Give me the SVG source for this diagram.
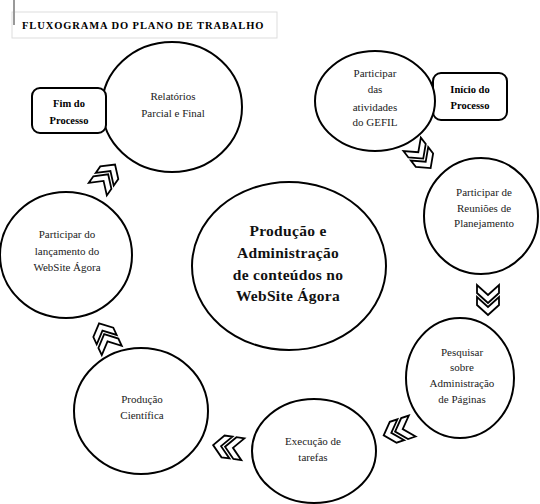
<svg xmlns="http://www.w3.org/2000/svg" xmlns:xlink="http://www.w3.org/1999/xlink" width="540" height="504" viewBox="0 0 540 504" font-family="'Liberation Serif', 'Times New Roman', serif">
<style>
.c{fill:#fff;stroke:#000;stroke-width:2}
.b{fill:#fff;stroke:#000;stroke-width:2}
text{font-family:'Liberation Serif','Times New Roman',serif}
.t{font-size:11px;fill:#222;text-anchor:middle}
.bt{font-size:10.5px;font-weight:bold;fill:#000;text-anchor:middle}
.ct{font-size:15.5px;font-weight:bold;fill:#111;text-anchor:middle;letter-spacing:0.3px}
.ch{fill:#fff;stroke:#000;stroke-width:1.8;stroke-linejoin:miter}
</style>
<defs>
<g id="chev">
<polygon class="ch" points="-16,-11 -8,-11 2,0 -8,11 -16,11 -6,0"/>
<polygon class="ch" points="-4,-11 4,-11 14,0 4,11 -4,11 6,0"/>
</g>
</defs>
<rect width="540" height="504" fill="#fff"/>
<g id="title">
<rect x="12" y="12" width="265" height="26" fill="none" stroke="#ddd" stroke-width="1"/>
<line x1="14" y1="0" x2="14" y2="25" stroke="#999" stroke-width="2"/>
<text x="22" y="29" font-size="10.5" font-weight="bold" letter-spacing="0.9">FLUXOGRAMA DO PLANO DE TRABALHO</text>
</g>
<g id="connectors">
<use xlink:href="#chev" transform="translate(422,157) rotate(52)"/>
<use xlink:href="#chev" transform="translate(488,301) rotate(90)"/>
<use xlink:href="#chev" transform="translate(397,431) rotate(162)"/>
<use xlink:href="#chev" transform="translate(227,447) rotate(188)"/>
<use xlink:href="#chev" transform="translate(105,336) rotate(245)"/>
<use xlink:href="#chev" transform="translate(107,176) rotate(305)"/>
</g>
<g id="inicio">
<rect class="b" x="433" y="73" width="74" height="47" rx="8"/>
<text class="bt" x="470" y="93">Início do</text>
<text class="bt" x="470" y="109">Processo</text>
</g>
<g id="gefil">
<ellipse class="c" cx="375" cy="101" rx="60" ry="50"/>
<text class="t" x="375" y="77">Participar</text>
<text class="t" x="375" y="93">das</text>
<text class="t" x="375" y="111">atividades</text>
<text class="t" x="375" y="126">do GEFIL</text>
</g>
<g id="reunioes">
<ellipse class="c" cx="481" cy="216" rx="57" ry="58"/>
<text class="t" x="484" y="196">Participar de</text>
<text class="t" x="484" y="212">Reuniões de</text>
<text class="t" x="484" y="227">Planejamento</text>
</g>
<g id="pesquisar">
<ellipse class="c" cx="460" cy="378" rx="54" ry="60"/>
<text class="t" x="462" y="356">Pesquisar</text>
<text class="t" x="462" y="371">sobre</text>
<text class="t" x="462" y="387">Administração</text>
<text class="t" x="462" y="403">de Páginas</text>
</g>
<g id="execucao">
<ellipse class="c" cx="314" cy="451" rx="62" ry="52"/>
<text class="t" x="313" y="445">Execução de</text>
<text class="t" x="313" y="461">tarefas</text>
</g>
<g id="producao">
<ellipse class="c" cx="141" cy="411" rx="67" ry="63"/>
<text class="t" x="142" y="403">Produção</text>
<text class="t" x="142" y="419">Científica</text>
</g>
<g id="lancamento">
<ellipse class="c" cx="66" cy="255" rx="66" ry="63"/>
<text class="t" x="67" y="238">Participar do</text>
<text class="t" x="67" y="255">lançamento do</text>
<text class="t" x="67" y="271">WebSite Ágora</text>
</g>
<g id="relatorios">
<ellipse class="c" cx="172" cy="107" rx="70" ry="65"/>
<text class="t" x="173" y="100">Relatórios</text>
<text class="t" x="173" y="117">Parcial e Final</text>
</g>
<g id="fim">
<rect class="b" x="32" y="88" width="74" height="45" rx="8"/>
<text class="bt" x="69" y="107">Fim do</text>
<text class="bt" x="69" y="124">Processo</text>
</g>
<g id="central">
<ellipse class="c" cx="289" cy="266" rx="97" ry="84"/>
<text class="ct" x="288" y="236">Produção e</text>
<text class="ct" x="288" y="258">Administração</text>
<text class="ct" x="288" y="280">de conteúdos no</text>
<text class="ct" x="288" y="301">WebSite Ágora</text>
</g>
</svg>
